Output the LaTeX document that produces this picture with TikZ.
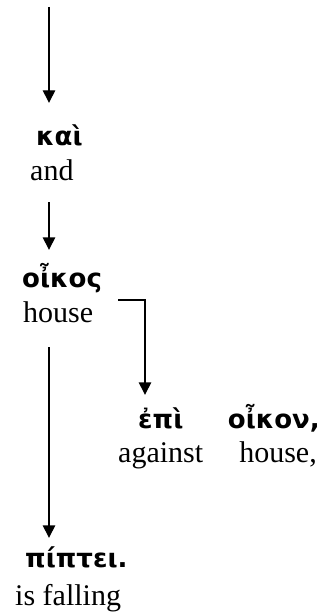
\documentclass[tikz,border=0pt]{standalone}
\usepackage{fontspec}
\setmainfont{Liberation Serif}
\newfontfamily\grk{DejaVu Sans}
\usetikzlibrary{arrows.meta}
\tikzset{
  eng/.style={inner sep=0pt, font=\fontsize{30}{36}\selectfont, text depth=0pt, text height=22pt},
  gr/.style={inner sep=0pt, font=\fontsize{26}{31}\grk\bfseries, text depth=0pt, text height=18pt},
  arr/.style={line width=1.4pt, -{Triangle[length=12.5pt,width=12.5pt]}},
  elbow/.style={line width=1.4pt, -{Triangle[length=12.5pt,width=12.5pt]}}
}
\begin{document}
\begin{tikzpicture}[x=1pt,y=-1pt]
\useasboundingbox (0,0) rectangle (324,615);
\coordinate (c0) at (49,7);
\node[gr, anchor=base west] (kai) at (36,145) {καὶ};
\node[eng, anchor=base west] (and) at (30,180) {and};
\node[gr, anchor=base west] (oikos) at (22,287) {οἶκος};
\node[eng, anchor=base west] (house) at (23,322) {house};
\node[gr, anchor=base west] (epi) at (138,428) {ἐπὶ};
\node[eng, anchor=base west] (against) at (118,462) {against};
\node[gr, anchor=base east] (oikon) at (320,428) {οἶκον,};
\node[eng, anchor=base east] (house2) at (317,462) {house,};
\node[gr, anchor=base west] (pipei) at (25,567) {πίπτει.};
\node[eng, anchor=base west] (falling) at (15,605) {is falling};
\draw[arr, shorten >=24pt] (c0) -- (c0 |- kai.north);
\draw[arr, shorten <=22pt, shorten >=19pt] (c0 |- and.south) -- (c0 |- oikos.north);
\draw[arr, shorten <=25pt, shorten >=11pt] (c0 |- house.south) -- (c0 |- pipei.north);
\draw[elbow, shorten >=15pt] ([xshift=25pt]house.north east) -| ([xshift=7pt]epi.north west);
\end{tikzpicture}
\end{document}
